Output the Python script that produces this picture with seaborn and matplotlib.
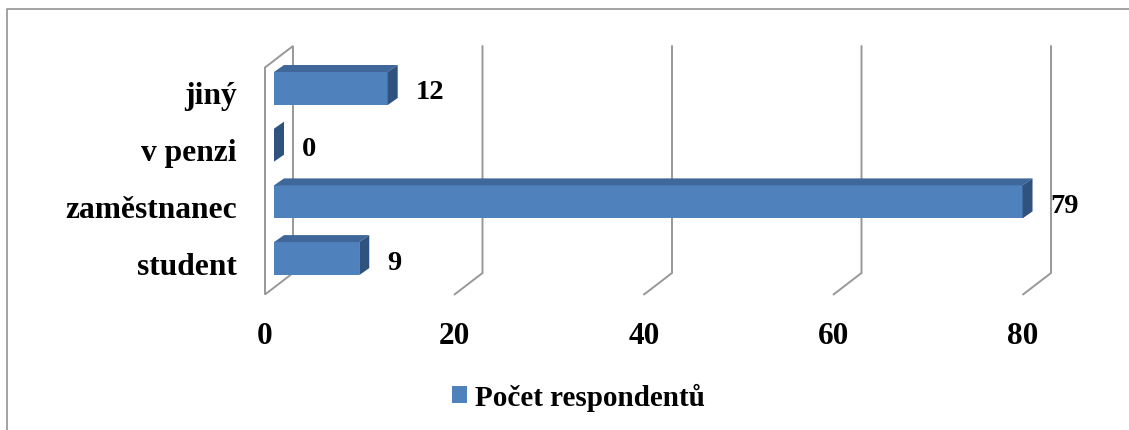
import numpy as np
import pandas as pd
import seaborn as sns
import matplotlib
matplotlib.use("Agg")
import matplotlib.pyplot as plt
from matplotlib.patches import Polygon
from matplotlib.lines import Line2D

# ---- data ----
categories = ["student", "zaměstnanec", "v penzi", "jiný"]
values = [9, 79, 0, 12]
tick_values = [0, 20, 40, 60, 80]
series_name = "Počet respondentů"

order = categories[::-1]  # top to bottom as drawn

sns.set_theme(style="white")
plt.rcParams["font.family"] = ["Liberation Serif", "DejaVu Serif"]
plt.rcParams["font.weight"] = "bold"
plt.rcParams["text.color"] = "black"

W, H, DPI = 1129, 431, 100
fig = plt.figure(figsize=(W / DPI, H / DPI), dpi=DPI)
ax = fig.add_axes([0, 0, 1, 1])

# pixel <-> data helpers (bar front plane)
PXX, PXY = 9.475, 56.7
X0, Y0 = 274.0, 89.5
def dx(p): return p / PXX
def dy(p): return p / PXY          # downward positive (inverted y)
def xpx(p): return (p - X0) / PXX
def ypx(p): return (p - Y0) / PXY

FRONT = "#4F81BD"
TOP = "#3F679A"
SIDE = "#30527F"
GRID = "#989898"

df = pd.DataFrame({"kategorie": categories, "pocet": values})
BAR_H = 33 / PXY
sns.barplot(data=df, x="pocet", y="kategorie", order=order, orient="h",
            color=FRONT, saturation=1, width=BAR_H, errorbar=None,
            linewidth=0, label=series_name, zorder=3, ax=ax)

ax.set_xlim(xpx(0), xpx(W))
ax.set_ylim(ypx(H), ypx(0))
ax.set_axis_off()

# 3D faces of bars
DX, DY = dx(10), dy(7)
for i, cat in enumerate(order):
    v = values[categories.index(cat)]
    top, bot = i - BAR_H / 2, i + BAR_H / 2
    ax.add_patch(Polygon([(0, top), (v, top), (v + DX, top - DY), (DX, top - DY)],
                         closed=True, facecolor=TOP, edgecolor="none", zorder=3))
    ax.add_patch(Polygon([(v, top), (v + DX, top - DY), (v + DX, bot - DY), (v, bot)],
                         closed=True, facecolor=SIDE, edgecolor="none", zorder=3))

# side wall at 0 and back-wall gridlines with floor diagonals
BX, FX = dx(19), dx(-9)
ax.add_patch(Polygon([(FX, ypx(68.5)), (BX, ypx(47)), (BX, ypx(274)), (FX, ypx(295.5))],
                     closed=True, fill=False, edgecolor=GRID, linewidth=1.4, zorder=1))
for v in tick_values[1:]:
    ax.plot([v + BX, v + BX, v + FX], [ypx(47), ypx(274), ypx(295.5)],
            color=GRID, linewidth=1.4, zorder=1, solid_joinstyle="miter")

# x tick labels
for v in tick_values:
    ax.text(v + FX, ypx(344), str(v), ha="center", va="baseline",
            fontsize=22.5, fontweight="bold", color="black")

# category labels
for i, cat in enumerate(order):
    ax.text(xpx(237), i + dy(15), cat, ha="right", va="baseline",
            fontsize=22.7, fontweight="bold", color="black")

# value labels
for i, cat in enumerate(order):
    v = values[categories.index(cat)]
    ax.text(v + dx(28), i + dy(10), str(v), ha="left", va="baseline",
            fontsize=20.5, fontweight="bold", color="black")

# legend
leg = ax.legend(loc="center", bbox_to_anchor=(578.5 / W, 1 - 398 / H),
                bbox_transform=fig.transFigure, frameon=False,
                prop={"family": "Liberation Serif", "weight": "bold", "size": 21},
                handlelength=0.52, handleheight=0.52, handletextpad=0.28,
                borderpad=0, borderaxespad=0)
for t in leg.get_texts():
    t.set_color("black")

# chart area border (left and top visible)
fig.add_artist(Line2D([7 / W, 7 / W, 1.0], [0.0, 1 - 10 / H, 1 - 10 / H],
                      transform=fig.transFigure, color="#8a8a8a", linewidth=1.1))

fig.savefig("out.png", dpi=DPI)
